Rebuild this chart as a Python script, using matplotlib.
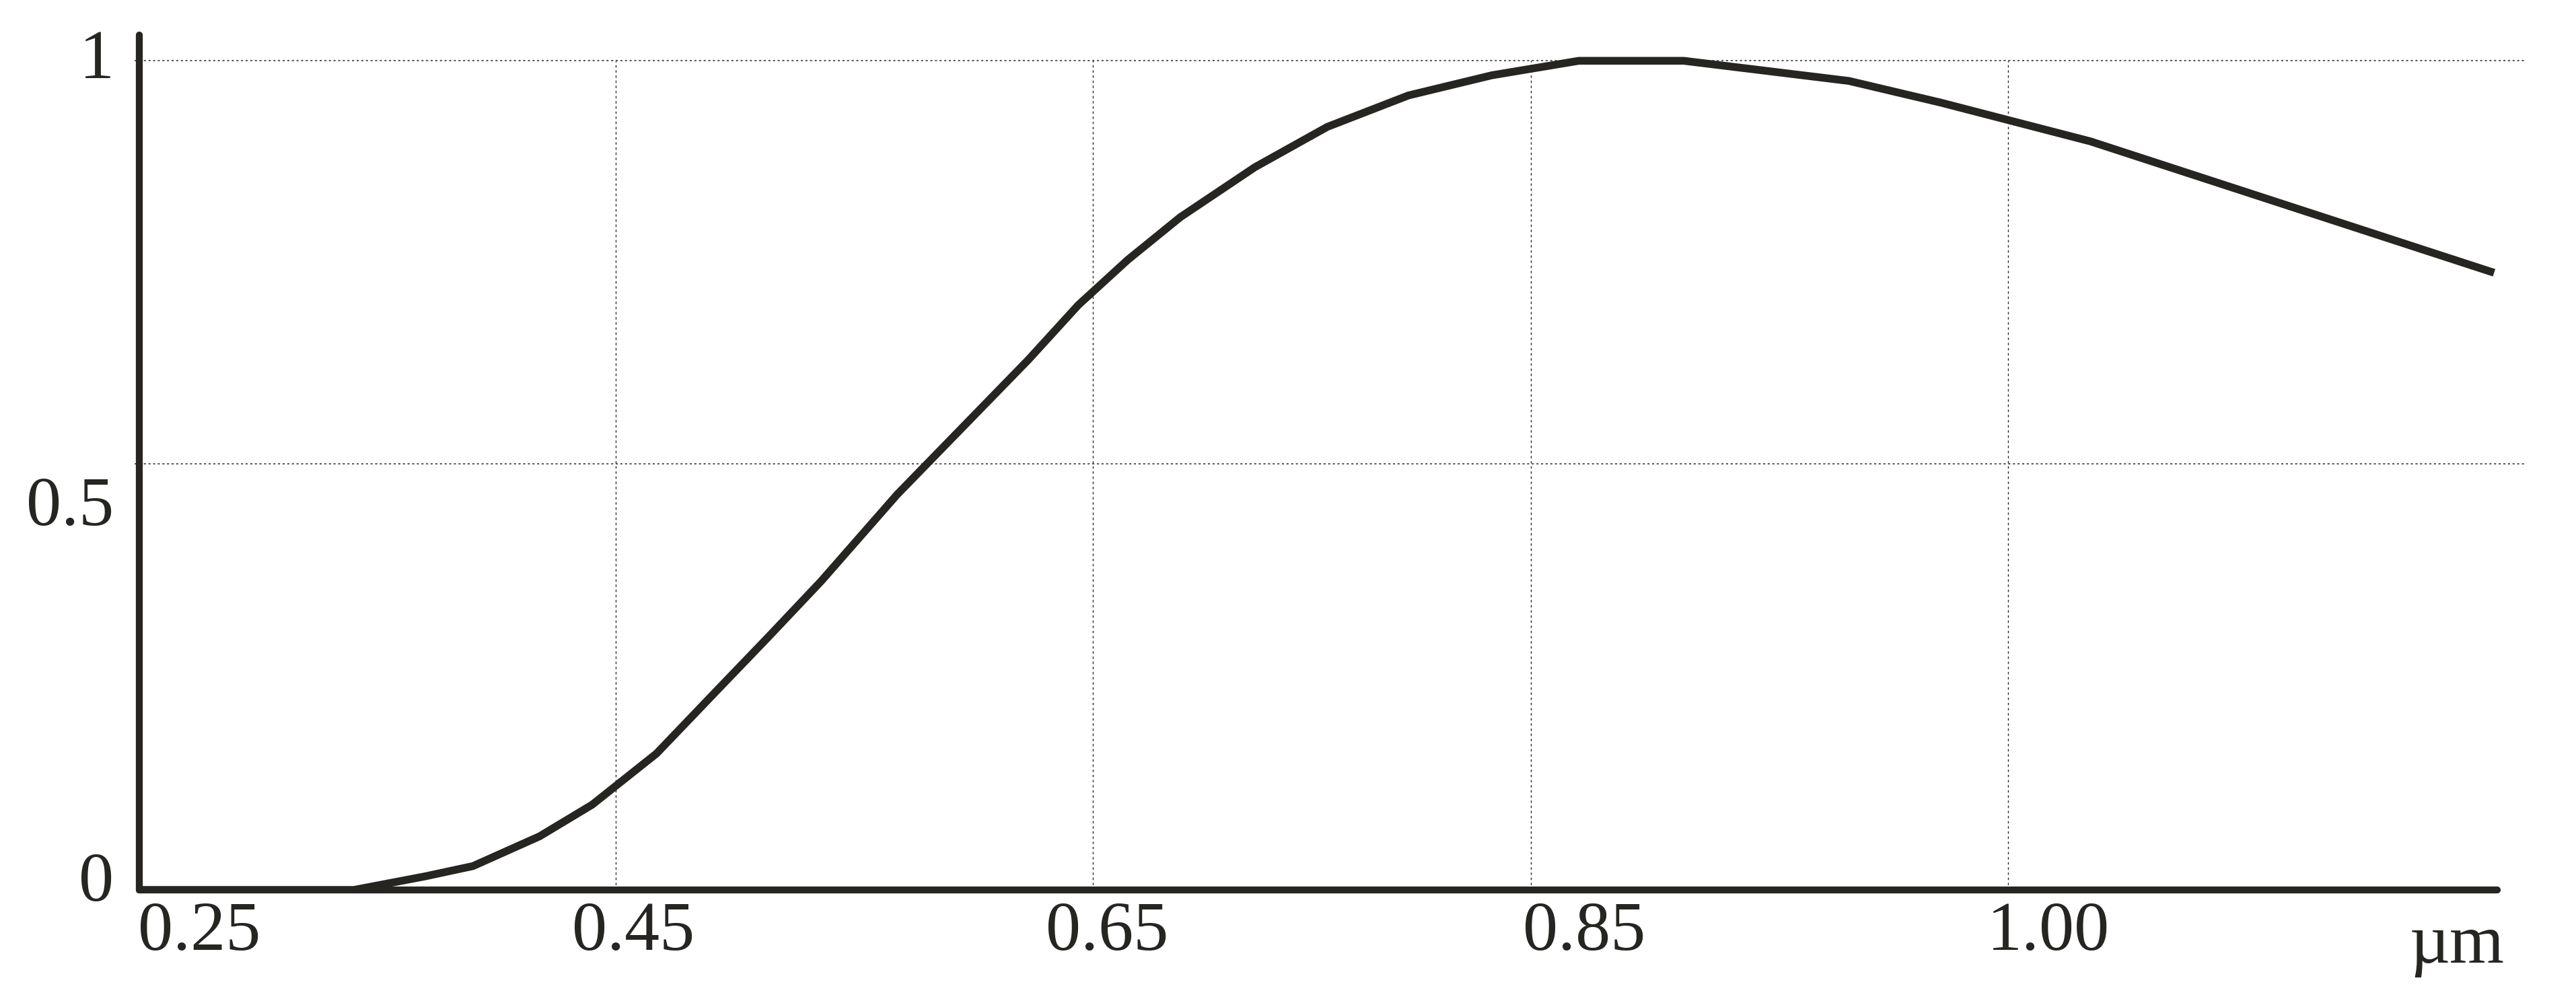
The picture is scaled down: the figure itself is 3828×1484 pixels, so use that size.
import matplotlib.pyplot as plt
import numpy as np
from matplotlib.transforms import ScaledTranslation

# spectral response curve
wavelength = [0.25, 0.34, 0.37, 0.39, 0.418, 0.44, 0.467, 0.492, 0.514, 0.536, 0.568,
              0.623, 0.644, 0.666, 0.69, 0.724, 0.757, 0.794, 0.832, 0.865, 0.898,
              0.95, 0.979, 1.026, 1.153]
response = [0, 0, 0.016, 0.028, 0.063, 0.100, 0.160, 0.233, 0.297, 0.362, 0.464,
            0.629, 0.697, 0.753, 0.806, 0.868, 0.918, 0.957, 0.982, 1.0, 1.0,
            0.975, 0.948, 0.900, 0.737]

x_ticks = [0.25, 0.45, 0.65, 0.85, 1.00]
x_labels = ["0.25", "0.45", "0.65", "0.85", "1.00"]
y_ticks = [0, 0.5, 1]
y_labels = ["0", "0.5", "1"]
x_grid = [0.45, 0.65, 0.85, 1.00]
y_grid = [0.5, 1]

# neither axis is quite linear in the original drawing
x_stop = [0, 1, 2, 2.92, 3.92]
y_stop = [0, 0.514, 1]


def piecewise(vals, src, dst):
    vals = np.asarray(vals, float)
    out = np.interp(vals, src, dst)
    hi_slope = (dst[-1] - dst[-2]) / (src[-1] - src[-2])
    lo_slope = (dst[1] - dst[0]) / (src[1] - src[0])
    out = np.where(vals > src[-1], dst[-1] + (vals - src[-1]) * hi_slope, out)
    out = np.where(vals < src[0], dst[0] + (vals - src[0]) * lo_slope, out)
    return out


ink = "#262522"
plt.rcParams["font.family"] = ["Liberation Serif", "DejaVu Serif"]

W, H = 3828, 1484
fig = plt.figure(figsize=(W / 100, H / 100), dpi=100)
ax = fig.add_axes([207 / W, (H - 1322) / H, (3711 - 207) / W, (1322 - 52) / H])
ax.set_xscale("function", functions=(lambda v: piecewise(v, x_ticks, x_stop),
                                     lambda p: piecewise(p, x_stop, x_ticks)))
ax.set_yscale("function", functions=(lambda v: piecewise(v, y_ticks, y_stop),
                                     lambda p: piecewise(p, y_stop, y_ticks)))
ax.set_xlim(0.25, 1.154)
ax.set_ylim(0, 1.032)

for y in y_grid:
    ax.axhline(y, xmin=-0.002, xmax=1.0123, color=ink, lw=1.1,
               linestyle=(0, (2, 2.5)), clip_on=False, zorder=1)
ax.vlines(x_grid, 0, 1, color=ink, lw=1.0, linestyle=(0, (2.5, 3)), zorder=1)

ax.plot(wavelength, response, color=ink, lw=8.3, solid_capstyle="butt",
        solid_joinstyle="miter", zorder=3)

for s in ["top", "right"]:
    ax.spines[s].set_visible(False)
for s in ["left", "bottom"]:
    ax.spines[s].set_linewidth(7.4)
    ax.spines[s].set_color(ink)
    ax.spines[s].set_capstyle("round")
    ax.spines[s].set_zorder(4)

ax.set_xticks(x_ticks, x_labels)
ax.set_yticks(y_ticks, y_labels)
ax.minorticks_off()
ax.tick_params(axis="x", length=0, pad=12, labelsize=75, labelcolor=ink)
ax.tick_params(axis="y", length=0, pad=27, labelsize=75, labelcolor=ink)

# labels sit a little off their grid lines in the original
for lab, dx in zip(ax.get_xticklabels(), [0.89, 0.26, 0.21, 0.79, 0.6]):
    lab.set_transform(lab.get_transform() + ScaledTranslation(dx, 0, fig.dpi_scale_trans))
for lab, dy in zip(ax.get_yticklabels(), [0.2, -0.55, 0.1]):
    lab.set_transform(lab.get_transform() + ScaledTranslation(0, dy, fig.dpi_scale_trans))

ax.text(1.003, -0.028, "µm", transform=ax.transAxes, ha="right", va="top",
        fontsize=75, color=ink)

fig.savefig("out.png", dpi=100)
